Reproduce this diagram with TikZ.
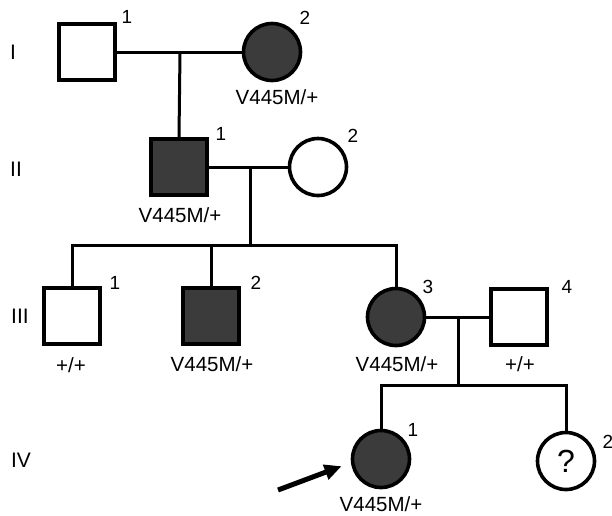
\documentclass[tikz,border=0pt]{standalone}
\usepackage{fontspec}
\setmainfont{Liberation Sans}
\usetikzlibrary{arrows.meta}
\tikzset{
	male/.style={draw, line width=4pt, minimum size=56pt, inner sep=0pt},
	female/.style={draw, circle, line width=3.6pt, minimum size=57pt, inner sep=0pt},
	affected/.style={fill=black!77},
	kin/.style={line width=3pt},
	geno/.style={font=\fontsize{20.5}{23}\selectfont},
	num/.style={font=\fontsize{19}{21}\selectfont},
	gen/.style={font=\fontsize{21}{24}\selectfont},
	pointer/.style={line width=5pt, -{Triangle[length=17pt, width=15pt]}}
}

\begin{document}
\begin{tikzpicture}[x=1pt, y=-1pt]
            \useasboundingbox (0,0) rectangle (612,515);
            % Generations
            \node[gen] (gI) at (13,52) {I};
            \node[gen] (gII) at (16,169) {II};
            \node[gen] (gIII) at (20,316) {III};
            \node[gen] (gIV) at (21,460) {IV};
            % Generation I
            \node[male] (I1) at (87,52) {};
            \node[female, affected] (I2) at (272,52) {};
            \node[num] (nI1) at (127,17) {1};
            \node[num] (nI2) at (305,18) {2};
            \node[geno] (tI2) at (277,97) {V445M/+};
            % Generation II
            \node[male, affected] (II1) at (179,167) {};
            \node[female] (II2) at (318,167) {};
            \node[num] (nII1) at (221,134) {1};
            \node[num] (nII2) at (353,136) {2};
            \node[geno] (tII1) at (180,215) {V445M/+};
            % Generation III
            \node[male] (III1) at (72,316) {};
            \node[male, affected] (III2) at (211,316) {};
            \node[female, affected] (III3) at (396,317) {};
            \node[male] (III4) at (519,317) {};
            \node[num] (nIII1) at (115,283) {1};
            \node[num] (nIII2) at (256,283) {2};
            \node[num] (nIII3) at (428,287) {3};
            \node[num] (nIII4) at (567,287) {4};
            \node[geno] (tIII1) at (71,365) {+/+};
            \node[geno] (tIII2) at (212,364) {V445M/+};
            \node[geno] (tIII3) at (397,364) {V445M/+};
            \node[geno] (tIII4) at (520,364) {+/+};
            % Generation IV
            \node[female, affected] (IV1) at (381,459) {};
            \node[female] (IV2) at (566,461) {\fontsize{32}{34}\selectfont ?};
            \node[num] (nIV1) at (413,430) {1};
            \node[num] (nIV2) at (608,442) {2};
            \node[geno] (tIV1) at (381,504) {V445M/+};
            % Matings and sibships
            \coordinate (m1) at (180,52);
            \coordinate (m2) at (250,167);
            \coordinate (s2) at (250,245);
            \coordinate (m3) at (458,317);
            \coordinate (s3) at (458,385);
            \draw[kin] (I1) -- (I2);
            \draw[kin] (m1) -- (II1.north);
            \draw[kin] (II1) -- (II2);
            \draw[kin] (m2) -- (s2);
            \draw[kin] (III1.north) |- (III3.north |- s2) -- (III3.north);
            \draw[kin] (III2.north) -- (III2.north |- s2);
            \draw[kin] (III3) -- (III4);
            \draw[kin] (m3) -- (s3);
            \draw[kin] (IV1.north) |- (IV2.north |- s3) -- (IV2.north);
            % Proband
            \coordinate (tail) at (278,490);
            \draw[pointer, shorten >=10pt] (tail) -- (IV1.187);
\end{tikzpicture}
\end{document}
